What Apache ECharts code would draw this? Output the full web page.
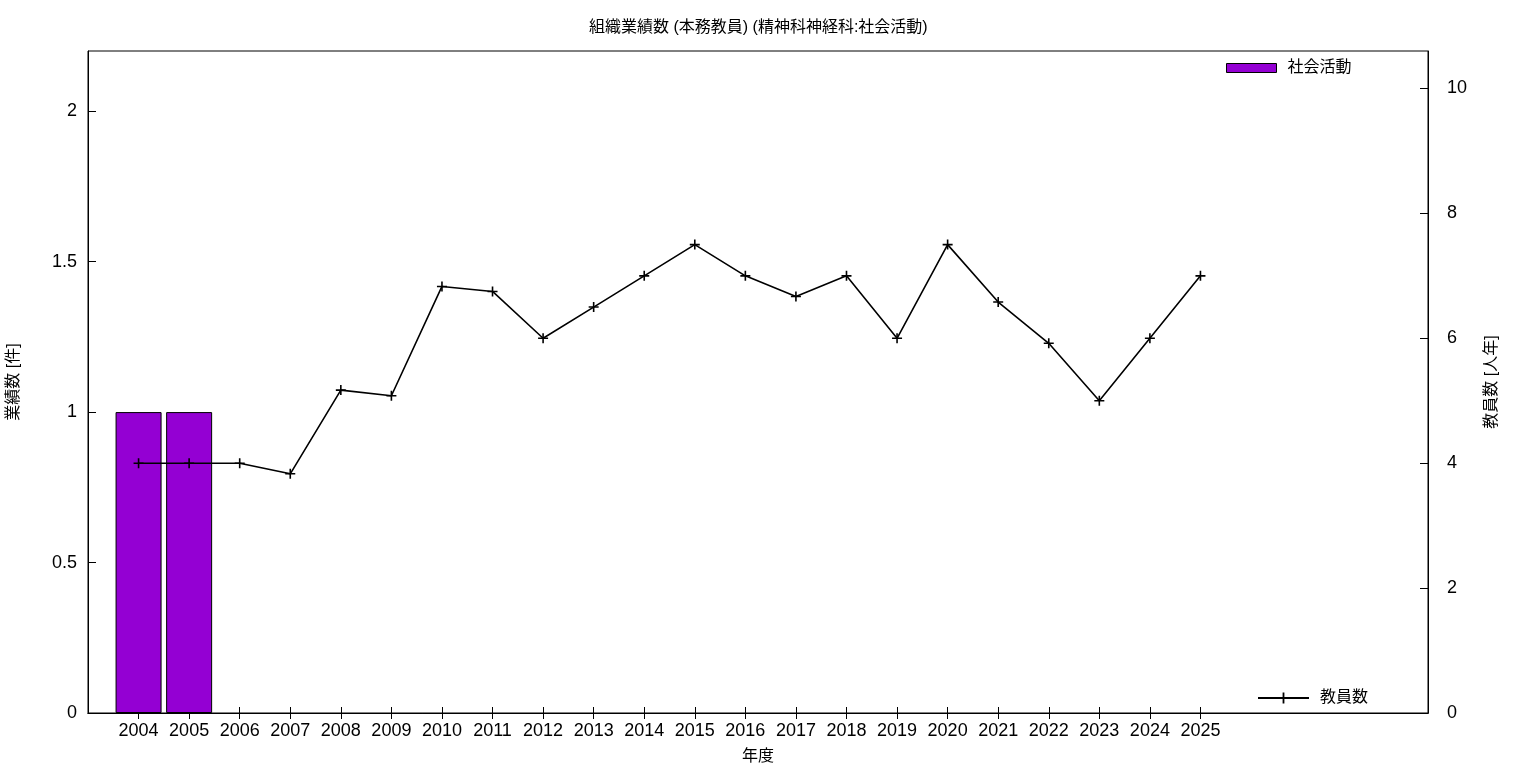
<!DOCTYPE html>
<html>
<head>
<meta charset="utf-8">
<script src="https://cdn.jsdelivr.net/npm/echarts@6/dist/echarts.min.js"></script>
<style>html,body{margin:0;padding:0;background:#fff}#c{width:1536px;height:768px}</style>
</head>
<body>
<div id="c"></div>
<script>
const years = [2004,2005,2006,2007,2008,2009,2010,2011,2012,2013,2014,2015,2016,2017,2018,2019,2020,2021,2022,2023,2024,2025];
const activity = [1,1,0,0,0,0,0,0,0,0,0,0,0,0,0,0,0,0,0,0,0,0];
const staff = [4,4,4,3.83,5.17,5.08,6.83,6.75,6,6.5,7,7.5,7,6.67,7,6,7.5,6.58,5.92,5,6,7];
const leftTicks = [0,0.5,1,1.5,2];
const rightTicks = [0,2,4,6,8,10];
const titleText = '組織業績数 (本務教員) (精神科神経科:社会活動)';

const FONT = "'Liberation Sans','Noto Sans CJK JP',sans-serif";
const chart = echarts.init(document.getElementById('c'));
const plus = 'path://M4.2,0H5.8V4.2H10V5.8H5.8V10H4.2V5.8H0V4.2H4.2Z';

chart.setOption({
  animation: false,
  textStyle: {fontFamily: FONT, color: '#000'},
  title: {text: titleText, left: 584, top: 15,
    textStyle: {fontSize: 16, fontWeight: 'normal', color: '#000', fontFamily: FONT}},
  grid: {left: 88, right: 108, top: 51, bottom: 55, show: true, borderColor: '#000', borderWidth: 1,
    backgroundColor: 'transparent', containLabel: false, outerBoundsMode: 'none'},
  legend: [
    {data: [{name: '社会活動', icon: 'rect', itemStyle: {borderWidth: 1, borderColor: '#000'}}],
      left: 1221, top: 55, itemWidth: 50, itemHeight: 9,
      textStyle: {fontSize: 16, color: '#000', fontFamily: FONT, padding: [0,0,0,6]}},
    {data: ['教員数'], left: 1252, top: 685, itemWidth: 51, itemHeight: 14,
      textStyle: {fontSize: 16, color: '#000', fontFamily: FONT, padding: [0,0,0,6]}}
  ],
  xAxis: [
    {type: 'value', min: 2003, max: 2029.5, position: 'bottom',
      name: '年度', nameLocation: 'middle', nameGap: 36,
      nameTextStyle: {fontSize: 16, color: '#000', fontFamily: FONT},
      axisLine: {show: true, lineStyle: {color: '#000'}},
      axisTick: {show: true, inside: true, length: 6, customValues: years, lineStyle: {color: '#000'}},
      axisLabel: {customValues: years, fontSize: 18, color: '#000', margin: 9, fontFamily: FONT, formatter: v => String(v)},
      splitLine: {show: false}},
    {type: 'value', min: 2003, max: 2029.5, position: 'top',
      axisLine: {show: true, lineStyle: {color: '#000'}},
      axisTick: {show: true, inside: true, length: 6, customValues: years, lineStyle: {color: '#000'}},
      axisLabel: {show: false},
      splitLine: {show: false}}
  ],
  yAxis: [
    {type: 'value', min: 0, max: 2.2, position: 'left',
      name: '業績数 [件]', nameLocation: 'middle', nameGap: 66, nameRotate: 90,
      nameTextStyle: {fontSize: 16, color: '#000', fontFamily: FONT},
      axisLine: {show: true, lineStyle: {color: '#000'}},
      axisTick: {show: true, inside: true, length: 8, customValues: leftTicks, lineStyle: {color: '#000'}},
      axisLabel: {customValues: leftTicks, fontSize: 18, color: '#000', margin: 11, fontFamily: FONT},
      splitLine: {show: false}},
    {type: 'value', min: 0, max: 10.6, position: 'right',
      name: '教員数 [人年]', nameLocation: 'middle', nameGap: 56, nameRotate: 90,
      nameTextStyle: {fontSize: 16, color: '#000', fontFamily: FONT},
      axisLine: {show: true, lineStyle: {color: '#000'}},
      axisTick: {show: true, inside: true, length: 8, customValues: rightTicks, lineStyle: {color: '#000'}},
      axisLabel: {customValues: rightTicks, fontSize: 18, color: '#000', margin: 19, fontFamily: FONT},
      splitLine: {show: false}}
  ],
  series: [
    {name: '社会活動', type: 'bar', xAxisIndex: 0, yAxisIndex: 0, barWidth: 46,
      data: years.map((y, i) => [y, activity[i] > 0 ? activity[i] : null]),
      itemStyle: {color: '#9400D3', borderColor: '#000', borderWidth: 1}},
    {name: '教員数', type: 'line', xAxisIndex: 0, yAxisIndex: 1,
      data: years.map((y, i) => [y, staff[i]]),
      symbol: plus, symbolSize: 10, showAllSymbol: true,
      lineStyle: {color: '#000', width: 1.6},
      itemStyle: {color: '#000'}}
  ]
});
</script>
</body>
</html>
